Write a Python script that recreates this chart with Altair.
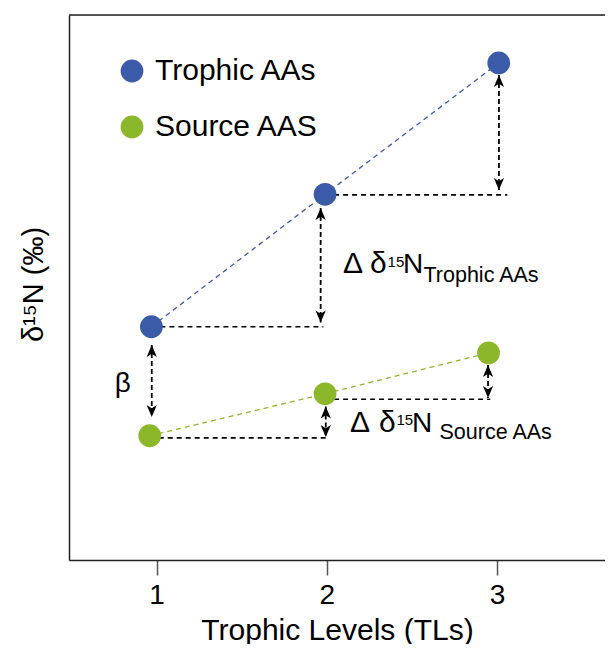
import altair as alt
import pandas as pd

# ---- data ----
tl_ticks = [1, 2, 3]
series_names = ["Trophic AAs", "Source AAS"]
trophic_x = [0.97, 1.99, 3.01]
trophic_y = [4.28, 6.71, 9.12]
source_x = [0.96, 1.99, 2.95]
source_y = [2.28, 3.05, 3.80]

# horizontal dashed guides
guide_x = [0.97, 1.99, 0.96, 1.99]
guide_x2 = [1.98, 3.06, 2.00, 2.96]
guide_y = [4.28, 6.70, 2.24, 2.95]

# vertical double-headed arrows
arrow_x = [1.964, 3.011, 0.972, 1.994, 2.947]
arrow_top = [6.46, 8.90, 3.945, 2.817, 3.578]
arrow_bottom = [4.36, 6.79, 2.624, 2.257, 2.972]

# annotation texts
greek_text = ["Δ", "δ", "Δ", "δ"]
greek_x = [2.095, 2.254, 2.136, 2.307]
greek_y = [5.266, 5.266, 2.354, 2.354]
main_text = ["N", "N", "β"]
main_x = [2.448, 2.500, 0.754]
main_y = [5.266, 2.354, 3.075]
sup_text = ["15", "15"]
sup_x = [2.357, 2.409]
sup_y = [5.382, 2.470]
sub_text = ["Trophic AAs", "Source AAs"]
sub_x = [2.568, 2.662]
sub_y = [5.092, 2.215]

x_domain = [0.486, 3.634]
y_domain = [0, 10]

BLUE = "#3B5BA8"
GREEN = "#8CB72A"
FONT = "Liberation Sans"

points = pd.DataFrame({
    "series": [series_names[0]] * 3 + [series_names[1]] * 3,
    "x": trophic_x + source_x,
    "y": trophic_y + source_y,
})
guides = pd.DataFrame({"x": guide_x, "x2": guide_x2, "y": guide_y})
arrows = pd.DataFrame({"x": arrow_x, "top": arrow_top, "bottom": arrow_bottom})
greek = pd.DataFrame({"t": greek_text, "x": greek_x, "y": greek_y})
main = pd.DataFrame({"t": main_text, "x": main_x, "y": main_y})
sup = pd.DataFrame({"t": sup_text, "x": sup_x, "y": sup_y})
sub = pd.DataFrame({"t": sub_text, "x": sub_x, "y": sub_y})
border = pd.DataFrame({"y": [y_domain[1]]})

xs = alt.Scale(domain=x_domain, nice=False, zero=False)
ys = alt.Scale(domain=y_domain, nice=False, zero=False)

x_axis = alt.Axis(
    values=tl_ticks, format="d", grid=False,
    tickSize=15, tickWidth=1.5, tickColor="#555555",
    domainColor="#222222", domainWidth=1.5,
    labelFontSize=28, labelFont=FONT, labelColor="black",
    labelBaseline="alphabetic", labelPadding=28,
    title="Trophic Levels (TLs)", titleFontSize=30, titleFont=FONT,
    titleFontWeight="normal", titleColor="black",
    titleBaseline="alphabetic", titleY=79,
)
y_axis = alt.Axis(
    ticks=False, labels=False, grid=False,
    domainColor="#222222", domainWidth=1.5,
    title="δ¹⁵N (‰)", titleFontSize=29, titleFont=FONT,
    titleFontWeight="normal", titleColor="black",
    titleBaseline="alphabetic", titleAngle=270, titleAlign="center",
    titleX=-27, titleY=269,
)

X = lambda f: alt.X(f, type="quantitative", scale=xs, axis=x_axis)
Y = lambda f: alt.Y(f, type="quantitative", scale=ys, axis=y_axis)

line_trophic = alt.Chart(points).transform_filter(
    alt.datum.series == series_names[0]
).mark_line(strokeWidth=1.3, strokeDash=[5, 4], color=BLUE).encode(x=X("x"), y=Y("y"))
line_source = alt.Chart(points).transform_filter(
    alt.datum.series == series_names[1]
).mark_line(strokeWidth=1.3, strokeDash=[5, 4], color=GREEN).encode(x=X("x"), y=Y("y"))

guide_layer = alt.Chart(guides).mark_rule(color="black", strokeWidth=1.6, strokeDash=[5, 4]).encode(
    x=X("x"), x2="x2", y=Y("y"),
)

shafts = alt.Chart(arrows).mark_rule(color="black", strokeWidth=1.8, strokeDash=[5, 3]).encode(
    x=X("x"), y=Y("top"), y2="bottom",
)

UP = "M0,0L0.85,2L0,1.45L-0.85,2Z"
DOWN = "M0,0L0.85,-2L0,-1.45L-0.85,-2Z"
heads_up = alt.Chart(arrows).mark_point(shape=UP, filled=True, size=144, color="black", opacity=1).encode(
    x=X("x"), y=Y("top"),
)
heads_down = alt.Chart(arrows).mark_point(shape=DOWN, filled=True, size=144, color="black", opacity=1).encode(
    x=X("x"), y=Y("bottom"),
)

dots = alt.Chart(points).mark_point(filled=True, size=519, opacity=1).encode(
    x=X("x"), y=Y("y"),
    color=alt.Color(
        "series:N",
        scale=alt.Scale(domain=series_names, range=[BLUE, GREEN]),
        sort=series_names,
        legend=alt.Legend(
            title=None, orient="none", legendX=48, legendY=41,
            labelFontSize=30, labelFont=FONT, labelColor="black", labelLimit=0,
            symbolSize=519, symbolType="circle", symbolStrokeWidth=0,
            symbolOpacity=1, labelOffset=8, rowPadding=26, padding=0,
        ),
    ),
)

top_border = alt.Chart(border).mark_rule(color="#222222", strokeWidth=1.5).encode(y=Y("y"))

def text_layer(df, size):
    return alt.Chart(df).mark_text(
        align="left", baseline="alphabetic", fontSize=size, font=FONT, color="black"
    ).encode(x=X("x"), y=Y("y"), text="t:N")

chart = alt.layer(
    line_trophic, line_source, guide_layer, shafts, heads_up, heads_down, dots, top_border,
    text_layer(greek, 30), text_layer(main, 28), text_layer(sup, 15), text_layer(sub, 21.5),
).properties(
    width=536, height=545,
    autosize=alt.AutoSizeParams(type="none"),
    padding={"left": 61, "top": 7, "right": 0, "bottom": 84},
).configure_view(stroke=None).configure(font=FONT)

chart.save("out.html", embed_options={"renderer": "svg", "actions": False})
